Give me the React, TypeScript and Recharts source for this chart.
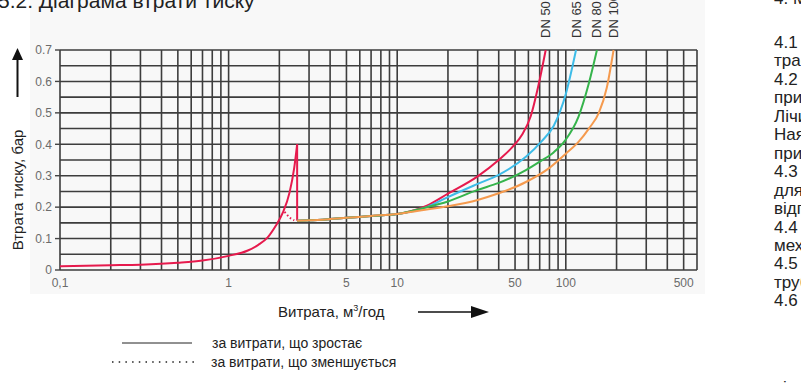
import { LineChart, Line, XAxis, YAxis, CartesianGrid } from "recharts";

const FONT = "'Liberation Sans', Arial, sans-serif";

// log grid of the flow axis, m3/h
const flowGrid = [
  0.1, 0.2, 0.3, 0.4, 0.5, 0.6, 0.7, 0.8, 0.9,
  1, 2, 3, 4, 5, 6, 7, 8, 9,
  10, 20, 30, 40, 50, 60, 70, 80, 90,
  100, 200, 300, 400, 500, 600,
];
const flowLabels = [0.1, 1, 5, 10, 50, 100, 500];
const flowLabelText = ["0,1", "1", "5", "10", "50", "100", "500"];

const lossGrid = [0, 0.05, 0.1, 0.15, 0.2, 0.25, 0.3, 0.35, 0.4, 0.45, 0.5, 0.55, 0.6, 0.65, 0.7];
const lossLabels = [0, 0.1, 0.2, 0.3, 0.4, 0.5, 0.6, 0.7];
const lossLabelText = ["0", "0.1", "0.2", "0.3", "0.4", "0.5", "0.6", "0.7"];

// start-up part (before the valve opens), rising flow
const riseFlow = [0.1, 0.2, 0.3, 0.5, 0.7, 1, 1.3, 1.5, 1.7, 1.9, 2.1, 2.3, 2.45, 2.55];
const riseLoss = [0.012, 0.015, 0.017, 0.023, 0.03, 0.045, 0.062, 0.08, 0.103, 0.14, 0.183, 0.247, 0.325, 0.4];

const dropFlow = [2.55, 2.55];
const dropLoss = [0.4, 0.157];

// falling flow (dotted)
const fallFlow = [2.15, 2.3, 2.45];
const fallLoss = [0.185, 0.166, 0.158];

const dnNames = ["DN 50", "DN 65", "DN 80", "DN 100"];
const dnColors = ["#e61a4d", "#3dbce8", "#36b44c", "#f59a4e"];

const dn50Flow = [2.55, 3, 4, 5, 7, 10, 12, 15, 20, 30, 40, 48, 55, 62, 69, 76];
const dn50Loss = [0.157, 0.158, 0.162, 0.166, 0.172, 0.178, 0.187, 0.205, 0.243, 0.298, 0.35, 0.39, 0.43, 0.49, 0.59, 0.7];

const dn65Flow = [2.55, 3, 4, 5, 7, 10, 15, 20, 30, 40, 58, 72, 85, 100, 115];
const dn65Loss = [0.157, 0.158, 0.162, 0.166, 0.172, 0.178, 0.2, 0.232, 0.274, 0.303, 0.36, 0.41, 0.46, 0.56, 0.7];

const dn80Flow = [2.55, 3, 4, 5, 7, 10, 14, 20, 30, 40, 58, 70, 85, 100, 119, 137, 153];
const dn80Loss = [0.157, 0.158, 0.162, 0.166, 0.172, 0.178, 0.196, 0.218, 0.255, 0.277, 0.318, 0.345, 0.375, 0.415, 0.488, 0.594, 0.7];

const dn100Flow = [2.55, 3, 4, 5, 7, 10, 14, 20, 30, 40, 58, 80, 100, 120, 137, 157, 175, 192];
const dn100Loss = [0.157, 0.158, 0.162, 0.166, 0.172, 0.178, 0.19, 0.203, 0.223, 0.244, 0.28, 0.325, 0.37, 0.41, 0.45, 0.5, 0.58, 0.7];

const rightLines = [
  "4.1 Перед", "траси", "4.2 Лічил", "прилад", "Лічиль", "Наявн", "прилад",
  "4.3 Під", "для", "відпов", "4.4 Між", "механ", "4.5 Від", "трубоп", "4.6 Пер",
];

const toPoints = (q: number[], p: number[]) => q.map((v, i) => ({ q: v, p: p[i] }));

const dnSeries = [
  toPoints(dn50Flow, dn50Loss),
  toPoints(dn65Flow, dn65Loss),
  toPoints(dn80Flow, dn80Loss),
  toPoints(dn100Flow, dn100Loss),
];

const FlowTick = (props: any) => {
  const { x, y, payload } = props;
  const i = flowLabels.findIndex((v) => Math.abs(v - payload.value) < 1e-9);
  if (i < 0) return <g />;
  return (
    <text x={x} y={y} dy="0.71em" textAnchor="middle" fontSize={12} fill="#6b6b6b" fontFamily={FONT}>
      {flowLabelText[i]}
    </text>
  );
};

const LossTick = (props: any) => {
  const { x, y, payload } = props;
  const i = lossLabels.findIndex((v) => Math.abs(v - payload.value) < 1e-9);
  if (i < 0) return <g />;
  return (
    <g>
      <line x1={x + 3} x2={x + 8} y1={y} y2={y} stroke="#444" strokeWidth={1.4} />
      <text x={x} y={y} dy="0.355em" textAnchor="end" fontSize={12} fill="#6b6b6b" fontFamily={FONT}>
        {lossLabelText[i]}
      </text>
    </g>
  );
};

const dnLabel = (name: string, last: number) => (props: any) => {
  const { x, index } = props;
  if (index !== last) return <g />;
  const bx = x + 4.5;
  return (
    <text x={bx} y={38} transform={`rotate(-90 ${bx} 38)`} fontSize={13} fill="#333" fontFamily={FONT}>
      {name}
    </text>
  );
};

export default function App() {
  return (
    <div style={{ position: "fixed", left: 0, top: 0, width: 801, height: 383, overflow: "hidden", background: "#fff" }}>
      <svg width={801} height={383} style={{ position: "absolute", left: 0, top: 0 }} fontFamily={FONT}>
        <rect x={30} y={0} width={675} height={294} fill="#f8f8f8" />
        <text x={-2} y={8} fontSize={21} fill="#222">5.2. Діаграма втрати тиску</text>

        <line x1={17.5} x2={17.5} y1={97} y2={58} stroke="#111" strokeWidth={2} />
        <polygon points="12,60 17.5,48 23,60" fill="#111" />
        <text x={22.5} y={190} transform="rotate(-90 22.5 190)" textAnchor="middle" fontSize={15} fill="#222">
          Втрата тиску, бар
        </text>

        <text x={278} y={317} fontSize={15} fill="#222">
          Витрата, м<tspan dy={-6} fontSize={9}>3</tspan><tspan dy={6}>/год</tspan>
        </text>
        <line x1={418} x2={475} y1={312} y2={312} stroke="#111" strokeWidth={1.5} />
        <polygon points="471,306 489,312 471,318" fill="#111" />

        <line x1={122} x2={192} y1={343} y2={343} stroke="#222" strokeWidth={1} />
        <text x={212} y={348} fontSize={14} fill="#222">за витрати, що зростає</text>
        <line x1={112} x2={198} y1={362} y2={362} stroke="#222" strokeWidth={1.5} strokeDasharray="1.5 5.2" />
        <text x={211} y={367} fontSize={14} fill="#222">за витрати, що зменшується</text>

        <text x={774} y={4} fontSize={17} fill="#222">4. Монтаж</text>
        {rightLines.map((t, i) => (
          <text key={i} x={774} y={48 + i * 18.45} fontSize={17} fill="#222">{t}</text>
        ))}
        <text x={774} y={393} fontSize={17} fill="#222">від</text>
      </svg>

      <div style={{ position: "absolute", left: 0, top: 0 }}>
        <LineChart width={720} height={300} margin={{ top: 50, right: 23, bottom: 0, left: 30 }}>
          <CartesianGrid stroke="#3d3d3d" strokeWidth={1.6} />
          <XAxis
            dataKey="q"
            type="number"
            scale="log"
            domain={[0.1, 600]}
            ticks={flowGrid}
            interval={0}
            axisLine={false}
            tickLine={false}
            height={30}
            tick={<FlowTick />}
          />
          <YAxis
            type="number"
            domain={[0, 0.7]}
            ticks={lossGrid}
            interval={0}
            width={30}
            axisLine={false}
            tickLine={false}
            tick={<LossTick />}
          />
          <Line data={toPoints(riseFlow, riseLoss)} dataKey="p" type="monotone" stroke={dnColors[0]} strokeWidth={2} dot={false} isAnimationActive={false} />
          <Line data={toPoints(dropFlow, dropLoss)} dataKey="p" type="linear" stroke={dnColors[0]} strokeWidth={2} dot={false} isAnimationActive={false} />
          <Line data={toPoints(fallFlow, fallLoss)} dataKey="p" type="linear" stroke={dnColors[0]} strokeWidth={2} strokeDasharray="1.5 2.5" dot={false} isAnimationActive={false} />
          {dnSeries.map((s, i) => (
            <Line
              key={dnNames[i]}
              data={s}
              dataKey="p"
              type="monotone"
              stroke={dnColors[i]}
              strokeWidth={2}
              dot={false}
              isAnimationActive={false}
              label={dnLabel(dnNames[i], s.length - 1)}
            />
          ))}
        </LineChart>
      </div>
    </div>
  );
}
